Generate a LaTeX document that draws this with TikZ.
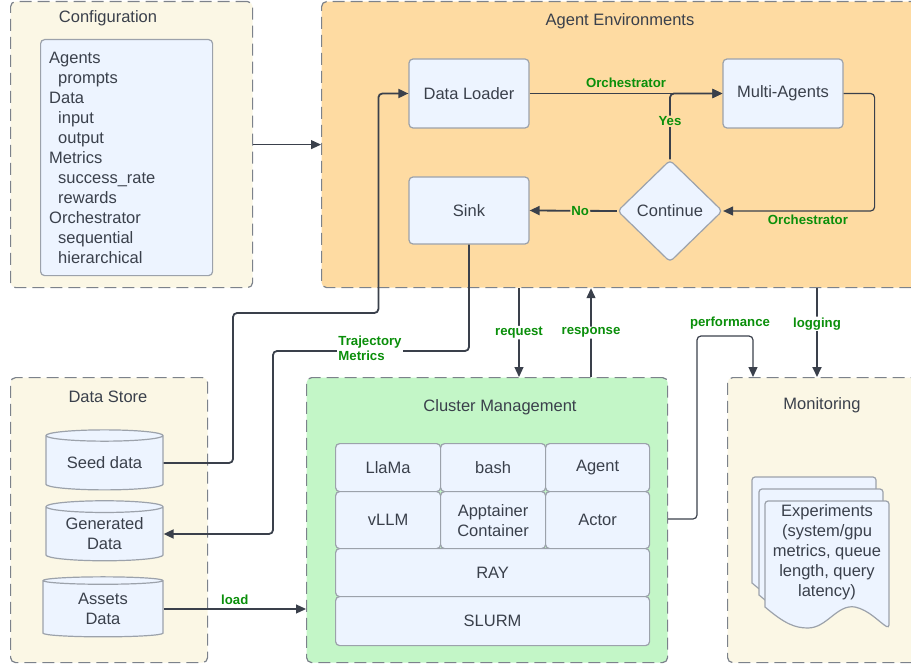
\documentclass[tikz,border=0pt]{standalone}
\usepackage{fontspec}
\setmainfont{Liberation Sans}
\usetikzlibrary{shapes.geometric,arrows.meta}

\definecolor{creamfill}{HTML}{FBF7E5}
\definecolor{orangefill}{HTML}{FEDBA2}
\definecolor{greenfill}{HTML}{C3F6C7}
\definecolor{bluefill}{HTML}{EDF4FF}
\definecolor{edgegray}{HTML}{7C828B}
\definecolor{boxgray}{HTML}{9CA2AB}
\definecolor{inkgray}{HTML}{3A404B}
\definecolor{labelgreen}{HTML}{0A8F0A}

\tikzset{
  panel/.style={draw=edgegray, dash pattern=on 12pt off 6pt, line width=1.2pt,
    rounded corners=5pt, anchor=north west, inner sep=0pt},
  paneltitle/.style={text=inkgray, font=\fontsize{16.5}{20}\selectfont},
  block/.style={draw=boxgray, fill=bluefill, line width=1.2pt, rounded corners=4pt,
    text=inkgray, font=\fontsize{16.5}{20}\selectfont, align=center, inner sep=0pt},
  store/.style={cylinder, shape border rotate=90, aspect=0.15, draw=boxgray, fill=bluefill,
    line width=1.2pt, text=inkgray, font=\fontsize{16.5}{20}\selectfont, align=center,
    inner sep=0pt, minimum width=117, minimum height=60},
  flow/.style={draw=inkgray, line width=1.2pt, rounded corners=4pt,
    -{Triangle[length=10pt,width=9pt]}},
  heavyflow/.style={flow, line width=1.8pt},
  tag/.style={text=labelgreen, font=\bfseries\fontsize{13.2}{15}\selectfont,
    inner sep=1pt, align=left},
}

\begin{document}
\begin{tikzpicture}[x=1pt,y=-1pt]
  \path[use as bounding box] (0,0) rectangle (911,666);

  \node[panel, fill=creamfill, minimum width=242, minimum height=286] (config) at (10,1) {};
  \node[paneltitle] (configtitle) at (108,18) {Configuration};
  \node[block, anchor=north west, minimum width=172, minimum height=236] (cfgbox) at (40,39) {};
  \node[text=inkgray, font=\fontsize{16.5}{20}\selectfont, align=left, anchor=west, inner sep=0pt] (cfglist) at (49,158)
    {Agents\\\hspace*{9pt}prompts\\Data\\\hspace*{9pt}input\\\hspace*{9pt}output\\Metrics\\
     \hspace*{9pt}success\_rate\\\hspace*{9pt}rewards\\Orchestrator\\\hspace*{9pt}sequential\\\hspace*{9pt}hierarchical};

  \node[panel, fill=orangefill, minimum width=604, minimum height=286] (agentenv) at (321,1) {};
  \node[paneltitle] (agenttitle) at (620,21) {Agent Environments};
  \node[block, minimum width=120, minimum height=69] (loader) at (469,93.5) {Data Loader};
  \node[block, minimum width=120, minimum height=69] (multi) at (783,93.5) {Multi-Agents};
  \node[block, minimum width=120, minimum height=67] (sink) at (469,210.5) {Sink};
  \node[block, diamond, aspect=1, minimum width=105, minimum height=102] (cont) at (670,211) {Continue};

  \node[panel, fill=creamfill, minimum width=197, minimum height=285] (datastore) at (10,377) {};
  \node[paneltitle] (storetitle) at (108,397) {Data Store};
  \node[store] (seed) at (104.5,463) {Seed data};
  \node[store] (gendata) at (104.5,534) {Generated\\Data};
  \node[store, minimum width=120] (assets) at (103,609) {Assets\\Data};

  \node[panel, fill=greenfill, minimum width=361, minimum height=285] (cluster) at (306,377) {};
  \node[paneltitle] (clustertitle) at (500,407) {Cluster Management};
  \node[block, anchor=north west, minimum width=105, minimum height=48] (llama) at (335,443) {LlaMa};
  \node[block, anchor=north west, minimum width=105, minimum height=48] (bash) at (440,443) {bash};
  \node[block, anchor=north west, minimum width=104, minimum height=48] (agent) at (545,443) {Agent};
  \node[block, anchor=north west, minimum width=105, minimum height=57] (vllm) at (335,491) {vLLM};
  \node[block, anchor=north west, minimum width=105, minimum height=57] (apptainer) at (440,491) {Apptainer\\Container};
  \node[block, anchor=north west, minimum width=104, minimum height=57] (actor) at (545,491) {Actor};
  \node[block, anchor=north west, minimum width=314, minimum height=48] (ray) at (335,548) {RAY};
  \node[block, anchor=north west, minimum width=314, minimum height=49] (slurm) at (335,596) {SLURM};

  \node[panel, fill=creamfill, minimum width=200, minimum height=285] (monitor) at (727,377) {};
  \node[paneltitle] (monitortitle) at (822,405) {Monitoring};
  \foreach \dx/\dy in {0/0,7/12,13/24}
    \draw[draw=boxgray, fill=bluefill, line width=1.2pt, rounded corners=3pt]
      (752+\dx,583+\dy) -- (752+\dx,477+\dy) -- (876+\dx,477+\dy) -- (876+\dx,604+\dy)
      [sharp corners] .. controls (866+\dx,598+\dy) and (856+\dx,586+\dy) .. (842+\dx,583+\dy)
      .. controls (824+\dx,580+\dy) and (814+\dx,604+\dy) .. (795+\dx,604+\dy)
      .. controls (782+\dx,604+\dy) and (772+\dx,600+\dy) .. cycle;
  \node[text=inkgray, font=\fontsize{16.5}{20}\selectfont, align=center] (expdoc) at (827,552.5)
    {Experiments\\(system/gpu\\metrics, queue\\length, query\\latency)};

  \draw[flow, line width=1pt] (config.east) -- (agentenv.west);
  \draw[flow] (loader.east) -- (multi.west) node[tag, midway, above=4pt] {Orchestrator};
  \draw[heavyflow] (cont.north) |- (multi.west) node[tag, pos=0.29, fill=orangefill] {Yes};
  \draw[flow] (multi.east) -- ++(31,0) |- (cont.east) node[tag, pos=0.72, below=2pt] {Orchestrator};
  \draw[heavyflow] (cont.west) -- (sink.east) node[tag, pos=0.42, fill=orangefill] {No};

  \draw[heavyflow] (seed.east) -| (233,313) -| ([xshift=-30]loader.west) -- (loader.west);
  \draw[heavyflow] (sink.south) |- (273,351) |- (gendata.east);
  \node[tag, fill=white] (trajtag) at (370,348) {Trajectory\\Metrics};
  \draw[flow] (assets.east) -- (cluster.west |- assets.east) node[tag, midway, above=3pt] {load};

  \draw[flow] (agentenv.south -| 519,0) -- (cluster.north -| 519,0) node[tag, midway, fill=white] {request};
  \draw[flow] (cluster.north -| 591,0) -- (agentenv.south -| 591,0) node[tag, midway, fill=white] {response};
  \draw[flow] (cluster.east |- 0,519) -| (697,336) -| (monitor.north -| 753,0);
  \node[tag] (perftag) at (730,323) {performance};
  \draw[heavyflow] (agentenv.south -| 817,0) -- (monitor.north -| 817,0) node[tag, pos=0.4, fill=white] {logging};
\end{tikzpicture}
\end{document}
